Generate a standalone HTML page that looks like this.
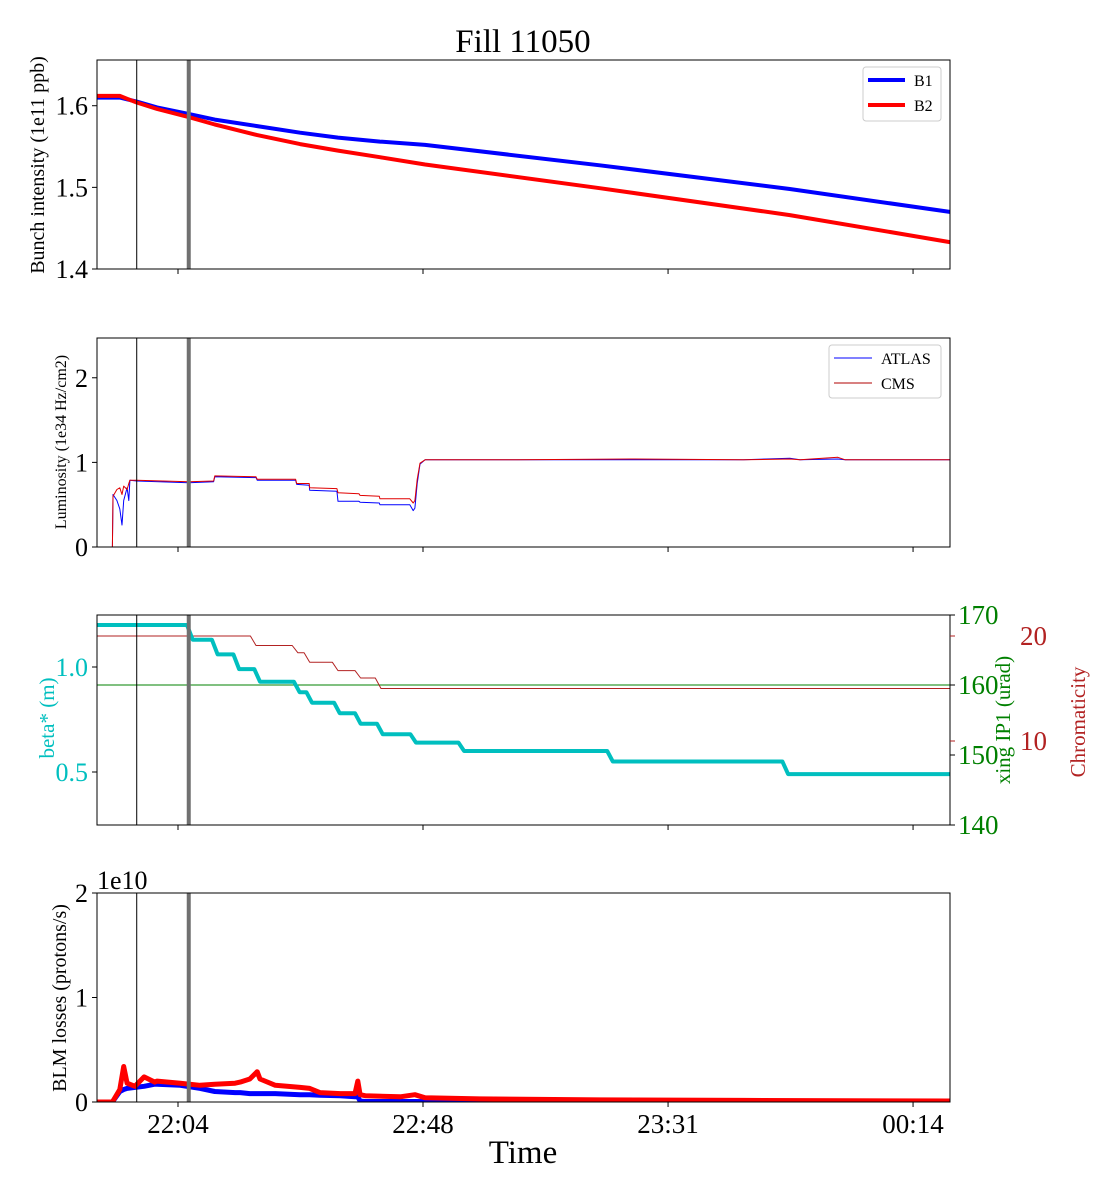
<!DOCTYPE html>
<html><head><meta charset="utf-8">
<style>
html,body{margin:0;padding:0;background:#fff;}
svg{display:block;font-family:"Liberation Serif","DejaVu Serif",serif;}
</style></head>
<body>
<svg id="chart" width="1120" height="1200" viewBox="0 0 1120 1200" xmlns="http://www.w3.org/2000/svg">
<text x="523" y="52" font-size="33" text-anchor="middle">Fill 11050</text>
<text x="523" y="1163" font-size="33" text-anchor="middle">Time</text>
</svg>
<script>
// ---- shared time axis (minutes after 22:04) ----
const xTickTimes = [0, 43.33, 86.67, 130];
const xTickLabels = ["22:04", "22:48", "23:31", "00:14"];
const markerThin = -7.3;
const markerThick = 1.9;

// ---- panel 1: bunch intensity ----
const intT = [-14.3, -10.3, -7.3, -3.7, 1.9, 6.5, 14.0, 21.6, 28.3, 35.7, 43.7, 74.6, 108.2, 136.5];
const intB1 = [1.610, 1.610, 1.605, 1.598, 1.590, 1.583, 1.575, 1.567, 1.561, 1.556, 1.552, 1.527, 1.498, 1.470];
const intB2 = [1.612, 1.612, 1.604, 1.596, 1.586, 1.577, 1.564, 1.553, 1.545, 1.537, 1.528, 1.499, 1.466, 1.433];

// ---- panel 2: luminosity ----
const lumT = [-14.3, -11.6, -11.5, -10.8, -10.3, -9.9, -9.6, -9.0, -8.7, -8.5, -7.3, 1.9, 6.3, 6.5, 13.8, 14.0, 20.8, 21.0, 23.2, 23.3, 28.1, 28.3, 32.0, 32.2, 35.6, 35.7, 41.0, 41.6, 41.9, 42.3, 42.8, 43.7, 60, 80, 100, 108.2, 110, 116.7, 118, 136.5];
const lumAtlas = [0, 0, 0.62, 0.55, 0.45, 0.26, 0.55, 0.70, 0.55, 0.79, 0.78, 0.76, 0.77, 0.83, 0.82, 0.79, 0.79, 0.74, 0.73, 0.67, 0.66, 0.54, 0.54, 0.53, 0.52, 0.50, 0.50, 0.43, 0.46, 0.75, 0.98, 1.03, 1.03, 1.03, 1.03, 1.05, 1.03, 1.04, 1.03, 1.03];
const lumCms = [0, 0, 0.60, 0.68, 0.70, 0.62, 0.72, 0.68, 0.75, 0.79, 0.79, 0.77, 0.78, 0.84, 0.83, 0.80, 0.80, 0.75, 0.75, 0.70, 0.69, 0.64, 0.63, 0.61, 0.60, 0.57, 0.57, 0.52, 0.55, 0.80, 0.99, 1.03, 1.03, 1.04, 1.03, 1.04, 1.03, 1.06, 1.03, 1.03];

// ---- panel 3: beta*, xing, chromaticity (step breakpoints) ----
const betaT = [-14.3, 2.1, 6.5, 10.3, 14.0, 21.0, 23.2, 28.1, 31.8, 35.7, 41.6, 50.1, 76.4, 107.4];
const betaV = [1.20, 1.13, 1.06, 0.99, 0.93, 0.88, 0.83, 0.78, 0.73, 0.68, 0.64, 0.60, 0.55, 0.49];
const xingT = [-14.3];
const xingV = [160];
const chromaT = [-14.3, 13.3, 20.7, 22.8, 27.8, 31.8, 35.4];
const chromaV = [20.0, 19.1, 18.4, 17.5, 16.7, 16.0, 15.0];

// ---- panel 4: BLM losses (1e10 p/s) ----
const blmT = [-14.3, -11.6, -10.3, -9.6, -9.0, -7.6, -6.0, -4.1, -3.7, 0.4, 3.9, 6.5, 10.1, 11.0, 12.7, 14.0, 14.5, 17.2, 21.6, 23.3, 25.1, 28.7, 31.3, 31.8, 32.2, 33.1, 39.3, 41.9, 43.7, 53.4, 74.6, 100, 136.5];
const blmB1 = [0, 0, 0.10, 0.12, 0.13, 0.14, 0.15, 0.17, 0.17, 0.16, 0.13, 0.10, 0.09, 0.09, 0.08, 0.08, 0.08, 0.08, 0.07, 0.07, 0.065, 0.06, 0.05, 0.05, 0.01, 0.005, 0.005, 0.005, 0.004, 0.003, 0.002, 0.001, 0.001];
const blmB2 = [0, 0, 0.12, 0.34, 0.18, 0.15, 0.24, 0.19, 0.20, 0.18, 0.16, 0.17, 0.18, 0.19, 0.22, 0.29, 0.22, 0.16, 0.14, 0.13, 0.09, 0.08, 0.08, 0.20, 0.07, 0.06, 0.05, 0.07, 0.04, 0.03, 0.02, 0.015, 0.01];

const NS = "http://www.w3.org/2000/svg";
const svg = document.getElementById("chart");
const X0 = 97, X1 = 950;
function xs(t){ return 178 + t * (245 / 43.33); }
function mk(tag, attrs, parent){
  const e = document.createElementNS(NS, tag);
  for (const k in attrs) e.setAttribute(k, attrs[k]);
  (parent || svg).appendChild(e);
  return e;
}
function txt(x, y, s, size, anchor, fill, parent){
  const e = mk("text", {x:x, y:y, "font-size":size, "text-anchor":anchor || "middle", fill: fill || "#000"}, parent);
  e.textContent = s;
  return e;
}
function poly(ts, vs, ys, color, w, name){
  let d = "";
  ts.forEach((t,i)=>{ d += (i?"L":"M") + xs(t).toFixed(1) + "," + ys(vs[i]).toFixed(1); });
  const p = mk("path", {d:d, fill:"none", stroke:color, "stroke-width":w, "stroke-linejoin":"round"});
  
  
  return p;
}
function stepPoly(ts, vs, ys, color, w, name){
  let d = "M" + xs(ts[0]).toFixed(1) + "," + ys(vs[0]).toFixed(1);
  for (let i = 1; i < ts.length; i++){
    d += "L" + xs(ts[i]-0.5).toFixed(1) + "," + ys(vs[i-1]).toFixed(1);
    d += "L" + xs(ts[i]+0.5).toFixed(1) + "," + ys(vs[i]).toFixed(1);
  }
  d += "L" + X1 + "," + ys(vs[vs.length-1]).toFixed(1);
  const p = mk("path", {d:d, fill:"none", stroke:color, "stroke-width":w, "stroke-linejoin":"round"});
  
  
  return p;
}
function panelFrame(top, bot, name, showLabels){
  const r = mk("rect", {x:X0, y:top, width:X1-X0, height:bot-top, fill:"none", stroke:"#000", "stroke-width":1});
  
  
  xTickTimes.forEach((t,i)=>{
    const x = xs(t);
    mk("line", {x1:x, x2:x, y1:bot, y2:bot+5, stroke:"#000", "stroke-width":1});
    if (showLabels){
      const l = txt(x, bot+31, xTickLabels[i], 27);
      
      
    }
  });
}
function markers(top, bot){
  mk("line", {x1:xs(markerThin), x2:xs(markerThin), y1:top, y2:bot, stroke:"#000", "stroke-width":1});
  mk("line", {x1:xs(markerThick), x2:xs(markerThick), y1:top, y2:bot, stroke:"#707070", "stroke-width":4});
}
function yTicks(vals, labels, ys, color, left){
  vals.forEach((v,i)=>{
    const y = ys(v);
    if (left){
      mk("line", {x1:X0-5, x2:X0, y1:y, y2:y, stroke:"#000"});
      const l = txt(X0-9, y+9, labels[i], 26, "end", color);
      
      
    }
  });
}
function ylabel(x, y, s, size, color, name){
  const e = txt(0, 0, s, size, "middle", color);
  e.setAttribute("transform", `translate(${x},${y}) rotate(-90)`);
  
  
}
function clip(id, top, bot){
  const cp = mk("clipPath", {id:id});
  mk("rect", {x:X0, y:top, width:X1-X0, height:bot-top}, cp);
  return mk("g", {"clip-path":`url(#${id})`});
}

// Panel 1
{
  const top=60, bot=269, lo=1.4, hi=1.656;
  const ys = v => bot - (v-lo)/(hi-lo)*(bot-top);
  const g = clip("c1", top, bot);
  markers(top, bot);
  const b1 = poly(intT, intB1, ys, "#0000ff", 4, "line-b1"); g.appendChild(b1);
  const b2 = poly(intT, intB2, ys, "#ff0000", 4, "line-b2"); g.appendChild(b2);
  panelFrame(top, bot, "intensity-panel", false);
  yTicks([1.4,1.5,1.6], ["1.4","1.5","1.6"], ys, "#000", true);
  ylabel(44, 165, "Bunch intensity (1e11 ppb)", 20, "#000", "intensity-y-title");
  const lg = mk("g", {});  
  mk("rect", {x:863, y:67, width:78, height:54, rx:3, fill:"#fff", stroke:"#ccc"}, lg);
  mk("line", {x1:868, x2:905, y1:80, y2:80, stroke:"#0000ff", "stroke-width":4}, lg);
  mk("line", {x1:868, x2:905, y1:105, y2:105, stroke:"#ff0000", "stroke-width":4}, lg);
  txt(914, 86, "B1", 16, "start", "#000", lg);
  txt(914, 111, "B2", 16, "start", "#000", lg);
}
// Panel 2
{
  const top=338, bot=547, lo=0, hi=2.47;
  const ys = v => bot - (v-lo)/(hi-lo)*(bot-top);
  const g = clip("c2", top, bot);
  markers(top, bot);
  g.appendChild(poly(lumT, lumAtlas, ys, "#0000ff", 1, "line-atlas"));
  g.appendChild(poly(lumT, lumCms, ys, "#e00000", 1, "line-cms"));
  panelFrame(top, bot, "luminosity-panel", false);
  yTicks([0,1,2], ["0","1","2"], ys, "#000", true);
  ylabel(66, 442, "Luminosity (1e34 Hz/cm2)", 16, "#000", "luminosity-y-title");
  const lg = mk("g", {});  
  mk("rect", {x:829, y:345, width:112, height:53, rx:3, fill:"#fff", stroke:"#ccc"}, lg);
  mk("line", {x1:834, x2:872, y1:358, y2:358, stroke:"#0000ff", "stroke-width":1}, lg);
  mk("line", {x1:834, x2:872, y1:383, y2:383, stroke:"#b00000", "stroke-width":1}, lg);
  txt(881, 364, "ATLAS", 16, "start", "#000", lg);
  txt(881, 389, "CMS", 16, "start", "#000", lg);
}
// Panel 3
{
  const top=615, bot=825;
  const ysB = v => 667 + (1.0 - v) * 210;
  const ysX = v => 825 - (v-140) * 7;
  const ysC = v => 741 - (v-10) * 10.5;
  const g = clip("c3", top, bot);
  markers(top, bot);
  g.appendChild(stepPoly(xingT, xingV, ysX, "#008000", 1, "line-xing"));
  g.appendChild(stepPoly(chromaT, chromaV, ysC, "#b22222", 1, "line-chromaticity"));
  g.appendChild(stepPoly(betaT, betaV, ysB, "#00bfbf", 4, "line-beta"));
  panelFrame(top, bot, "optics-panel", false);
  yTicks([0.5,1.0], ["0.5","1.0"], ysB, "#00bfbf", true);
  [140,150,160,170].forEach(v=>{
    const y = ysX(v);
    mk("line", {x1:X1, x2:X1+5, y1:y, y2:y, stroke:"#000"});
    const l = txt(X1+8, y+9, String(v), 27, "start", "#008000");
     
  });
  [10,20].forEach(v=>{
    const y = ysC(v);
    mk("line", {x1:X1, x2:X1+5, y1:y, y2:y, stroke:"#b22222"});
    const l = txt(1020, y+9, String(v), 27, "start", "#b22222");
     
  });
  ylabel(54, 718, "beta* (m)", 21, "#00bfbf", "beta-y-title");
  ylabel(1010, 720, "xing IP1 (urad)", 21, "#008000", "xing-y-title");
  ylabel(1085, 722, "Chromaticity", 21, "#b22222", "chromaticity-y-title");
}
// Panel 4
{
  const top=893, bot=1102, lo=0, hi=2;
  const ys = v => bot - (v-lo)/(hi-lo)*(bot-top);
  const g = clip("c4", top, bot);
  markers(top, bot);
  g.appendChild(poly(blmT, blmB1, ys, "#0000ff", 5, "line-blm-b1"));
  g.appendChild(poly(blmT, blmB2, ys, "#ff0000", 5, "line-blm-b2"));
  panelFrame(top, bot, "blm-panel", true);
  yTicks([0,1,2], ["0","1","2"], ys, "#000", true);
  const m = txt(97, 889, "1e10", 26, "start");  
  ylabel(66, 998, "BLM losses (protons/s)", 20, "#000", "blm-y-title");
}
</script>
</body></html>
